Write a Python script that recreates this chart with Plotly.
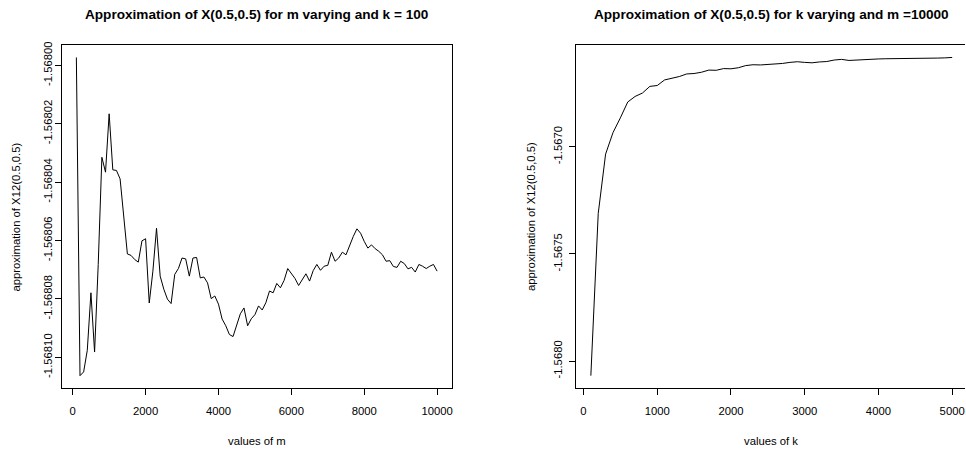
import plotly.graph_objects as go

# left panel: m varying, k = 100
m_values = list(range(100, 10001, 100))
approx_m = [
    -1.5679973, -1.5681063, -1.5681050, -1.5680976, -1.5680779, -1.5680982, -1.5680682, -1.5680315, -1.5680366, -1.5680166,
    -1.5680358, -1.5680360, -1.5680389, -1.5680524, -1.5680646, -1.5680651, -1.5680665, -1.5680674, -1.5680601, -1.5680594,
    -1.5680814, -1.5680705, -1.5680558, -1.5680722, -1.5680767, -1.5680801, -1.5680816, -1.5680716, -1.5680696, -1.5680660,
    -1.5680663, -1.5680722, -1.5680660, -1.5680658, -1.5680728, -1.5680725, -1.5680745, -1.5680799, -1.5680790, -1.5680818,
    -1.5680869, -1.5680892, -1.5680922, -1.5680929, -1.5680892, -1.5680851, -1.5680831, -1.5680892, -1.5680868, -1.5680854,
    -1.5680824, -1.5680838, -1.5680813, -1.5680773, -1.5680779, -1.5680747, -1.5680762, -1.5680737, -1.5680696, -1.5680711,
    -1.5680730, -1.5680754, -1.5680733, -1.5680714, -1.5680739, -1.5680703, -1.5680682, -1.5680702, -1.5680688, -1.5680685,
    -1.5680640, -1.5680671, -1.5680660, -1.5680640, -1.5680649, -1.5680615, -1.5680586, -1.5680560, -1.5680575, -1.5680603,
    -1.5680626, -1.5680615, -1.5680628, -1.5680637, -1.5680649, -1.5680671, -1.5680669, -1.5680689, -1.5680692, -1.5680671,
    -1.5680679, -1.5680697, -1.5680692, -1.5680708, -1.5680682, -1.5680688, -1.5680696, -1.5680688, -1.5680682, -1.5680705,
]
m_ticks = [0, 2000, 4000, 6000, 8000, 10000]
approx_m_ticks = [-1.56800, -1.56802, -1.56804, -1.56806, -1.56808, -1.56810]
approx_m_labels = ["-1.56800", "-1.56802", "-1.56804", "-1.56806", "-1.56808", "-1.56810"]

# right panel: k varying, m = 10000
k_values = list(range(100, 5001, 100))
approx_k = [
    -1.568068, -1.567311, -1.567034, -1.566934, -1.566865, -1.566791, -1.566765, -1.566749, -1.566718, -1.566714,
    -1.566688, -1.566680, -1.566672, -1.566660, -1.566658, -1.566652, -1.566642, -1.566643, -1.566635, -1.566636,
    -1.566631, -1.566621, -1.566617, -1.566618, -1.566616, -1.566613, -1.566611, -1.566606, -1.566603, -1.566606,
    -1.566608, -1.566604, -1.566602, -1.566595, -1.566592, -1.566597, -1.566595, -1.566591, -1.566590, -1.566590,
    -1.566589, -1.566589, -1.566588, -1.566587, -1.566586, -1.566586, -1.566586, -1.566586, -1.566585, -1.566583,
]
k_ticks = [0, 1000, 2000, 3000, 4000, 5000]
approx_k_ticks = [-1.5670, -1.5675, -1.5680]
approx_k_labels = ["-1.5670", "-1.5675", "-1.5680"]

FONT = "Liberation Sans, Arial, sans-serif"
W, H = 966, 450


def px_x(v):
    return v / W


def px_y(v):
    return 1 - v / H


def r_range(vals):
    lo, hi = min(vals), max(vals)
    pad = (hi - lo) * 0.04
    return [lo - pad, hi + pad]


def main():
    fig = go.Figure()
    fig.add_trace(go.Scatter(x=m_values, y=approx_m, mode="lines",
                             line=dict(color="black", width=1), xaxis="x", yaxis="y"))
    fig.add_trace(go.Scatter(x=k_values, y=approx_k, mode="lines",
                             line=dict(color="black", width=1), xaxis="x2", yaxis="y2"))

    axis_common = dict(showgrid=False, zeroline=False, showline=True, linecolor="black",
                       linewidth=1, ticks="outside", ticklen=6, tickcolor="black",
                       tickfont=dict(family=FONT, size=11.3, color="black"))
    ydom = [px_y(388), px_y(42)]

    fig.update_layout(
        width=W, height=H,
        margin=dict(l=0, r=0, t=0, b=0),
        paper_bgcolor="white", plot_bgcolor="white",
        showlegend=False,
        xaxis=dict(domain=[px_x(62), px_x(452)], range=r_range(m_values),
                   tickvals=m_ticks, ticktext=[str(t) for t in m_ticks],
                   mirror=True, anchor="y", ticklabelstandoff=6, **axis_common),
        yaxis=dict(domain=ydom, range=r_range(approx_m),
                   tickvals=approx_m_ticks, ticktext=approx_m_labels,
                   tickangle=-90, mirror=True, anchor="x", ticklabelstandoff=-2, **axis_common),
        xaxis2=dict(domain=[px_x(577), 1.0], range=[-96, 5174],
                    tickvals=k_ticks, ticktext=[str(t) for t in k_ticks],
                    mirror=True, anchor="y2", ticklabelstandoff=6, **axis_common),
        yaxis2=dict(domain=ydom, range=r_range(approx_k),
                    tickvals=approx_k_ticks, ticktext=approx_k_labels,
                    tickangle=-90, anchor="x2", ticklabelstandoff=3, **axis_common),
    )

    texts = [
        ("<b>Approximation of X(0.5,0.5) for m varying and k = 100</b>", 257, 12, 0, 13.6),
        ("<b>Approximation of X(0.5,0.5) for k varying and m =10000</b>", 772, 12, 0, 13.6),
        ("values of m", 257, 441, 0, 11.3),
        ("values of k", 772, 441, 0, 11.3),
        ("approximation of X12(0.5,0.5)", 16, 215, -90, 11.3),
        ("approximation of X12(0.5,0.5)", 531, 215, -90, 11.3),
    ]
    for txt, px, py, ang, size in texts:
        fig.add_annotation(text=txt, x=px_x(px), y=px_y(py), xref="paper", yref="paper",
                           xanchor="center", yanchor="middle", showarrow=False, textangle=ang,
                           font=dict(family=FONT, size=size, color="black"))

    # drop the default page margin so the figure fills the window exactly
    fig.write_html("out.html", config={"displayModeBar": False},
                   post_script="document.body.style.margin='0px';")


if __name__ == "__main__":
    main()
